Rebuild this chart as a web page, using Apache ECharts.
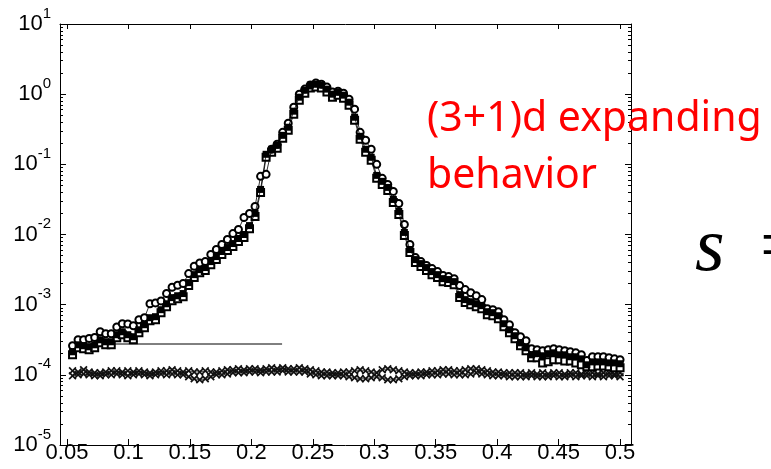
<!DOCTYPE html>
<html><head><meta charset="utf-8">
<script src="https://cdn.jsdelivr.net/npm/echarts@6/dist/echarts.min.js"></script>
<style>html,body{margin:0;padding:0;background:#fff}#c{width:771px;height:469px}</style>
</head><body><div id="c"></div><script>
const xValues = [0.0545,0.059,0.0635,0.068,0.0725,0.077,0.0815,0.086,0.0905,0.095,
0.0995,0.104,0.1085,0.113,0.1175,0.122,0.1265,0.131,0.1355,0.14,
0.1445,0.149,0.1535,0.158,0.1625,0.167,0.1715,0.176,0.1805,0.185,
0.1895,0.194,0.1985,0.203,0.2075,0.212,0.2165,0.221,0.2255,0.23,
0.2345,0.239,0.2435,0.248,0.2525,0.257,0.2615,0.266,0.2705,0.275,
0.2795,0.284,0.2885,0.293,0.2975,0.302,0.3065,0.311,0.3155,0.32,
0.3245,0.329,0.3335,0.338,0.3425,0.347,0.3515,0.356,0.3605,0.365,
0.3695,0.374,0.3785,0.383,0.3875,0.392,0.3965,0.401,0.4055,0.41,
0.4145,0.419,0.4235,0.428,0.4325,0.437,0.4415,0.446,0.4505,0.455,
0.4595,0.464,0.4685,0.473,0.4775,0.482,0.4865,0.491,0.4955,0.5];

const circleValues = [2.60e-4,3.16e-4,3.16e-4,3.30e-4,3.41e-4,4.11e-4,3.85e-4,3.85e-4,4.80e-4,5.35e-4,
5.30e-4,5.01e-4,6.10e-4,6.52e-4,1.03e-3,1.06e-3,1.13e-3,1.44e-3,1.77e-3,1.89e-3,
2.00e-3,2.77e-3,3.53e-3,3.94e-3,4.11e-3,5.18e-3,6.11e-3,7.20e-3,8.48e-3,1.03e-2,
1.18e-2,1.75e-2,2.00e-2,2.51e-2,6.74e-2,7.20e-2,0.164,0.193,0.286,0.385,
0.652,1.00,1.18,1.35,1.44,1.39,1.26,1.07,1.10,1.03,
0.848,0.611,0.286,0.220,0.164,0.100,6.31e-2,5.18e-2,4.11e-2,2.77e-2,
1.39e-2,7.20e-3,4.69e-3,4.11e-3,3.61e-3,3.27e-3,2.96e-3,2.60e-3,2.51e-3,2.35e-3,
1.87e-3,1.64e-3,1.48e-3,1.34e-3,1.18e-3,8.77e-4,8.48e-4,7.94e-4,6.10e-4,5.18e-4,
3.98e-4,3.49e-4,3.06e-4,2.35e-4,2.28e-4,2.20e-4,2.28e-4,2.35e-4,2.28e-4,2.20e-4,
2.13e-4,2.06e-4,1.93e-4,1.60e-4,1.81e-4,1.81e-4,1.81e-4,1.75e-4,1.69e-4,1.64e-4];

const filledSquareValues = [2.13e-4,2.68e-4,2.60e-4,2.51e-4,2.68e-4,3.16e-4,2.96e-4,2.96e-4,3.73e-4,4.11e-4,
3.73e-4,3.49e-4,4.39e-4,5.18e-4,6.52e-4,6.74e-4,8.48e-4,1.03e-3,1.26e-3,1.34e-3,
1.44e-3,2.06e-3,2.68e-3,3.16e-3,3.38e-3,4.11e-3,4.85e-3,5.72e-3,6.52e-3,7.43e-3,
8.77e-3,1.00e-2,1.34e-2,2.00e-2,4.39e-2,0.139,0.164,0.187,0.259,0.338,
0.572,0.906,1.14,1.35,1.39,1.35,1.18,1.00,1.07,0.968,
0.769,0.469,0.251,0.164,0.126,6.96e-2,5.72e-2,4.69e-2,3.16e-2,2.13e-2,
1.07e-2,6.11e-3,4.39e-3,3.85e-3,3.38e-3,2.96e-3,2.68e-3,2.35e-3,2.28e-3,2.13e-3,
1.39e-3,1.18e-3,1.10e-3,1.03e-3,9.68e-4,7.94e-4,7.69e-4,6.96e-4,5.35e-4,4.39e-4,
3.61e-4,2.86e-4,2.43e-4,1.93e-4,2.00e-4,1.87e-4,2.00e-4,2.06e-4,1.93e-4,1.93e-4,
1.81e-4,1.81e-4,1.69e-4,1.39e-4,1.53e-4,1.53e-4,1.53e-4,1.48e-4,1.48e-4,1.44e-4];

const openSquareValues = [1.93e-4,2.43e-4,2.36e-4,2.27e-4,2.43e-4,2.86e-4,2.68e-4,2.68e-4,3.38e-4,3.72e-4,
3.38e-4,3.16e-4,3.98e-4,4.69e-4,5.91e-4,6.11e-4,7.68e-4,9.33e-4,1.14e-3,1.21e-3,
1.30e-3,1.87e-3,2.43e-3,2.86e-3,3.06e-3,3.72e-3,4.39e-3,5.18e-3,5.91e-3,6.73e-3,
7.95e-3,9.06e-3,1.21e-2,1.81e-2,3.98e-2,0.126,0.149,0.169,0.235,0.306,
0.518,0.821,1.03,1.22,1.26,1.22,1.07,0.906,0.969,0.877,
0.697,0.425,0.227,0.149,0.114,6.31e-2,5.18e-2,4.25e-2,2.86e-2,1.93e-2,
9.69e-3,5.54e-3,3.98e-3,3.49e-3,3.06e-3,2.68e-3,2.43e-3,2.13e-3,2.07e-3,1.93e-3,
1.26e-3,1.07e-3,9.97e-4,9.33e-4,8.77e-4,7.19e-4,6.97e-4,6.31e-4,4.85e-4,3.98e-4,
3.27e-4,2.59e-4,2.20e-4,1.75e-4,1.75e-4,1.48e-4,1.53e-4,1.64e-4,1.64e-4,1.58e-4,
1.58e-4,1.48e-4,1.39e-4,1.30e-4,1.30e-4,1.34e-4,1.34e-4,1.30e-4,1.26e-4,1.26e-4];

const crossUpperValues = [1.14e-4,1.10e-4,1.18e-4,1.10e-4,1.07e-4,1.07e-4,1.10e-4,1.14e-4,1.14e-4,1.10e-4,1.14e-4,
1.10e-4,1.14e-4,1.10e-4,1.07e-4,1.10e-4,1.14e-4,1.14e-4,1.18e-4,1.14e-4,1.10e-4,
1.14e-4,1.10e-4,1.10e-4,1.14e-4,1.10e-4,
1.10e-4,1.14e-4,1.18e-4,1.18e-4,1.22e-4,1.18e-4,1.22e-4,1.22e-4,1.18e-4,1.22e-4,1.26e-4,1.22e-4,1.26e-4,1.22e-4,1.22e-4,
1.26e-4,1.22e-4,1.18e-4,1.14e-4,1.10e-4,1.10e-4,1.07e-4,1.07e-4,1.10e-4,1.10e-4,
1.14e-4,1.18e-4,1.14e-4,1.10e-4,1.07e-4,
1.18e-4,1.22e-4,1.18e-4,1.14e-4,1.10e-4,
1.07e-4,1.07e-4,1.10e-4,1.10e-4,1.14e-4,1.14e-4,1.18e-4,1.18e-4,1.14e-4,1.14e-4,
1.18e-4,1.22e-4,1.22e-4,1.18e-4,1.14e-4,1.10e-4,1.10e-4,1.07e-4,1.07e-4,1.07e-4,
1.07e-4,1.03e-4,1.07e-4,1.03e-4,1.07e-4,1.03e-4,1.07e-4,1.07e-4,1.03e-4,1.07e-4,
1.07e-4,1.03e-4,1.07e-4,1.07e-4,1.03e-4,1.07e-4,1.07e-4,1.03e-4,1.07e-4];

const crossLowerValues = [0.97e-4,1.00e-4,1.03e-4,1.00e-4,0.97e-4,0.97e-4,1.00e-4,1.00e-4,1.03e-4,1.00e-4,0.97e-4,
1.00e-4,1.03e-4,1.00e-4,0.97e-4,1.00e-4,1.03e-4,1.00e-4,1.03e-4,1.00e-4,1.00e-4,
0.94e-4,0.88e-4,0.85e-4,0.88e-4,0.94e-4,
1.00e-4,1.00e-4,1.03e-4,1.07e-4,1.07e-4,1.07e-4,1.10e-4,1.10e-4,1.07e-4,1.10e-4,1.10e-4,1.10e-4,1.14e-4,1.10e-4,1.10e-4,
1.10e-4,1.10e-4,1.03e-4,1.00e-4,0.97e-4,0.97e-4,0.97e-4,0.97e-4,0.97e-4,0.94e-4,
0.91e-4,0.88e-4,0.88e-4,0.91e-4,0.94e-4,
0.91e-4,0.85e-4,0.85e-4,0.88e-4,0.94e-4,
0.97e-4,0.97e-4,0.97e-4,1.00e-4,1.00e-4,1.00e-4,1.03e-4,1.03e-4,1.00e-4,1.00e-4,
1.00e-4,1.03e-4,1.07e-4,1.03e-4,1.00e-4,0.97e-4,0.97e-4,0.97e-4,0.94e-4,0.94e-4,
0.94e-4,0.94e-4,0.97e-4,0.94e-4,0.94e-4,0.94e-4,0.97e-4,0.94e-4,0.94e-4,0.97e-4,
0.94e-4,0.97e-4,0.97e-4,0.94e-4,0.97e-4,0.94e-4,0.97e-4,0.97e-4,0.94e-4];

const refLineX = [0.055, 0.225];
const refLineY = [2.75e-4, 2.75e-4];

const xTickValues = [0.05,0.1,0.15,0.2,0.25,0.3,0.35,0.4,0.45,0.5];
const xTickLabels = ['0.05','0.1','0.15','0.2','0.25','0.3','0.35','0.4','0.45','0.5'];
const yDecadeExponents = [-5,-4,-3,-2,-1,0,1];
const yMinorMantissas = [2,3,4,5,6,7,8,9];

const minorExps = [];
yDecadeExponents.slice(0, -1).forEach(e => yMinorMantissas.forEach(m => minorExps.push(e + Math.log10(m))));

const pairs = ys => xValues.map((x, i) => [x, ys[i]]);
const X_PATH = 'path://M0,1.5L1.5,0L5,3.5L8.5,0L10,1.5L6.5,5L10,8.5L8.5,10L5,6.5L1.5,10L0,8.5L3.5,5Z';
const FONT = 'Liberation Sans';
const XMIN = 0.0443, XMAX = 0.5089;

const chart = echarts.init(document.getElementById('c'), null, {renderer: 'canvas'});
const black = '#000';
chart.setOption({
  animation: false,
  backgroundColor: '#fff',
  grid: {left: 60, right: 140, top: 24, bottom: 24, containLabel: false},
  xAxis: [
    {type: 'value', position: 'bottom', min: XMIN, max: XMAX,
     axisLine: {show: true, onZero: false, lineStyle: {color: black, width: 1}},
     axisTick: {show: true, inside: true, length: 6, customValues: xTickValues, lineStyle: {color: black}},
     axisLabel: {show: true, customValues: xTickValues, margin: -3, color: black, fontFamily: FONT, fontSize: 22,
       formatter: v => { const k = xTickValues.findIndex(t => Math.abs(t - v) < 1e-9); return k >= 0 ? xTickLabels[k] : ''; }},
     splitLine: {show: false}},
    {type: 'value', position: 'top', min: XMIN, max: XMAX,
     axisLine: {show: true, onZero: false, lineStyle: {color: black, width: 1}},
     axisTick: {show: true, inside: true, length: 5, customValues: xTickValues, lineStyle: {color: black}},
     axisLabel: {show: false}, splitLine: {show: false}}
  ],
  yAxis: [
    {type: 'log', logBase: 10, min: 1e-5, max: 10, splitNumber: 6, position: 'left',
     axisLine: {show: true, onZero: false, lineStyle: {color: black, width: 1}},
     axisTick: {show: true, inside: true, length: 6, lineStyle: {color: black}},
     axisLabel: {show: true, margin: 9, color: black,
       formatter: v => '{b|10}{s|' + Math.round(Math.log10(v)) + '}',
       rich: {b: {fontFamily: FONT, fontSize: 22, lineHeight: 36, color: black},
              s: {fontFamily: FONT, fontSize: 15, lineHeight: 15, verticalAlign: 'top', color: black}}},
     splitLine: {show: false}, minorTick: {show: false}},
    {type: 'value', min: -5, max: 1, position: 'left', offset: 0,
     axisLine: {show: false}, axisLabel: {show: false}, splitLine: {show: false},
     axisTick: {show: true, inside: true, length: 3, customValues: minorExps, lineStyle: {color: black}}},
    {type: 'log', logBase: 10, min: 1e-5, max: 10, splitNumber: 6, position: 'right', offset: 0,
     axisLine: {show: true, onZero: false, lineStyle: {color: black, width: 1}},
     axisTick: {show: true, inside: true, length: 6, lineStyle: {color: black}},
     axisLabel: {show: false}, splitLine: {show: false}},
    {type: 'value', min: -5, max: 1, position: 'right', offset: 0,
     axisLine: {show: false}, axisLabel: {show: false}, splitLine: {show: false},
     axisTick: {show: true, inside: true, length: 3, customValues: minorExps, lineStyle: {color: black}}}
  ],
  series: [
    {type: 'line', data: pairs(crossUpperValues), symbol: X_PATH, symbolSize: 8,
     lineStyle: {color: '#222', width: 0.8}, itemStyle: {color: '#111'}, z: 2},
    {type: 'line', data: pairs(crossLowerValues), symbol: X_PATH, symbolSize: 8,
     lineStyle: {color: '#222', width: 0.8}, itemStyle: {color: '#111'}, z: 2},
    {type: 'line', data: refLineX.map((x, i) => [x, refLineY[i]]), symbol: 'none',
     lineStyle: {color: black, width: 1}, z: 2},
    {type: 'line', data: pairs(openSquareValues), symbol: 'emptyRect', symbolSize: 7,
     lineStyle: {color: black, width: 0.8}, itemStyle: {color: black, borderWidth: 1}, z: 3},
    {type: 'line', data: pairs(circleValues), symbol: 'emptyCircle', symbolSize: 7,
     lineStyle: {color: black, width: 0.8}, itemStyle: {color: black, borderWidth: 1}, z: 4},
    {type: 'line', data: pairs(filledSquareValues), symbol: 'rect', symbolSize: 7,
     lineStyle: {color: black, width: 0.8}, itemStyle: {color: black}, z: 5}
  ],
  graphic: [
    {type: 'text', x: 427, y: 119, z: 100, style: {text: '(3+1)d expanding', fill: '#ff0000',
      font: '41px "Noto Sans"', textVerticalAlign: 'middle'}},
    {type: 'text', x: 427, y: 176, z: 100, style: {text: 'behavior', fill: '#ff0000',
      font: '41px "Noto Sans"', textVerticalAlign: 'middle'}},
    {type: 'text', x: 695, y: 250, z: 100, style: {text: 's', fill: '#000',
      font: 'italic 76px "Liberation Serif"', textVerticalAlign: 'middle'}},
    {type: 'text', x: 760, y: 250, z: 100, style: {text: '=', fill: '#000',
      font: '76px "Liberation Serif"', textVerticalAlign: 'middle'}}
  ]
});
</script></body></html>
